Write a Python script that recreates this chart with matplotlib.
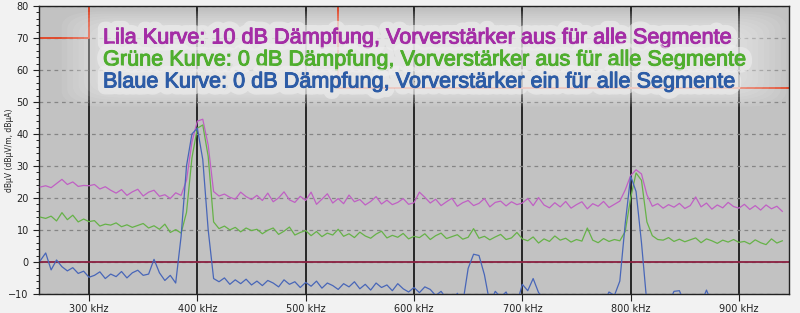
import matplotlib
matplotlib.use("Agg")
import matplotlib.pyplot as plt
import matplotlib.patheffects as pe
from matplotlib.patches import FancyBboxPatch
from matplotlib.ticker import MultipleLocator

# sweep grid in kHz (5 kHz steps)
freq_khz = list(range(255, 945, 5))

# Lila: 10 dB attenuation, preamp off
lila = [
    23.4, 23.8, 23.2, 24.5, 25.8, 24.2, 25.0, 23.6, 23.9, 23.8,
    24.2, 22.8, 23.5, 22.4, 21.5, 22.6, 20.8, 21.9, 22.7, 20.6,
    21.8, 22.4, 20.5, 21.0, 19.8, 21.6, 20.8, 25.5, 37.5, 44.0,
    44.6, 36.5, 22.0, 20.6, 21.2, 20.2, 19.6, 21.8, 20.4, 19.5,
    20.8, 19.2, 21.5, 18.8, 20.0, 21.9, 19.4, 18.6, 20.5, 19.2,
    21.8, 18.0, 19.6, 21.3, 18.4, 19.8, 18.2, 20.9, 18.8, 19.5,
    17.8, 18.9, 20.4, 18.1, 19.3, 17.9, 18.6, 19.8, 18.0, 18.5,
    21.8, 20.2, 18.4, 19.6, 17.6, 18.8, 19.9, 17.4, 18.5, 19.2,
    17.6, 18.3, 19.8, 17.2, 18.6, 19.0, 17.5, 18.8, 17.9, 18.4,
    19.8, 17.6, 20.1, 17.8, 16.9, 18.5, 17.2, 18.9, 16.8, 17.9,
    18.8, 16.6, 18.2, 17.4, 18.9, 17.0, 18.0, 19.0, 22.5, 27.0,
    28.8, 27.5, 21.0, 17.4, 18.2, 16.8, 17.9, 17.1, 18.3, 16.7,
    17.6, 20.3, 17.2, 18.4, 16.5, 17.8, 16.9, 18.6, 17.3, 16.8,
    18.0, 16.4, 17.6, 16.2, 17.8, 16.6, 17.4, 15.8,
]

# Gruen: 0 dB attenuation, preamp off
gruen = [
    14.0, 13.6, 14.3, 12.8, 15.4, 13.2, 14.6, 12.5, 13.4, 12.6,
    12.9, 11.2, 11.8, 11.5, 12.2, 11.0, 11.6, 10.8, 11.4, 12.0,
    10.6, 11.3, 10.2, 11.8, 9.2, 10.1, 9.0, 15.5, 32.5, 41.8,
    42.8, 33.0, 12.5, 10.4, 11.2, 10.0, 10.8, 9.4, 10.6, 9.8,
    10.2, 8.8, 9.9, 10.6, 8.6, 9.6, 10.9, 8.4, 9.2, 9.8,
    8.2, 9.5, 7.9, 9.0, 8.4, 10.2, 8.0, 8.8, 7.6, 9.3,
    8.1, 7.4, 8.7, 9.6, 7.5, 8.3, 7.7, 8.9, 7.2, 8.0,
    7.6, 8.8, 7.0, 8.2, 9.0, 7.3, 7.9, 8.5, 7.1, 7.7,
    10.4, 7.4, 8.0, 6.9, 7.8, 8.6, 7.0, 7.5, 9.2, 7.2,
    6.6, 7.8, 5.9, 7.2, 6.4, 8.1, 6.8, 7.4, 6.2, 7.0,
    6.5, 10.6, 6.8, 6.0, 7.3, 6.4, 7.0, 6.6, 9.5, 20.0,
    27.8, 25.5, 12.5, 8.2, 7.0, 6.8, 7.6, 6.4, 7.1, 6.3,
    6.9, 7.5, 6.0, 7.2, 6.6, 5.8, 6.8, 6.2, 7.0, 6.1,
    6.4, 5.6, 6.9, 6.0, 5.4, 7.2, 5.9, 6.6,
]

# Blau: 0 dB attenuation, preamp on (values below -10 fall off the chart)
blau = [
    0.4, 2.8, -2.5, 0.6, -1.5, -2.8, -1.8, -3.6, -2.9, -4.8,
    -4.2, -3.1, -5.2, -3.8, -4.6, -3.0, -5.0, -3.4, -2.6, -4.2,
    -3.8, 0.8, -3.4, -5.8, -4.2, -6.6, 8.0, 30.0, 40.0, 41.8,
    32.0, 10.0, -5.2, -6.2, -5.0, -7.0, -5.6, -6.8, -5.4, -7.2,
    -6.0, -7.4, -5.8, -6.6, -7.8, -5.6, -7.0, -6.2, -8.0, -6.4,
    -7.6, -6.0, -8.2, -6.6, -7.4, -8.6, -6.8, -7.8, -6.2, -8.4,
    -7.0, -8.8, -6.6, -8.0, -7.2, -9.0, -6.8, -8.4, -9.4, -8.0,
    -9.6, -7.8, -8.6, -10.5, -9.2, -11.5, -13.0, -9.8, -13.0, -2.0,
    2.4, 2.0, -4.0, -13.0, -9.2, -11.0, -9.4, -13.0, -13.0, -7.0,
    -9.0, -5.2, -9.6, -11.5, -13.0, -13.0, -13.0, -13.0, -13.0, -13.0,
    -13.0, -13.0, -13.0, -13.0, -13.0, -9.4, -10.5, -6.0, 12.0, 26.8,
    22.0, 6.0, -13.0, -13.0, -13.0, -13.0, -13.0, -9.2, -9.0, -13.0,
    -13.0, -13.0, -13.0, -8.8, -13.0, -13.0, -13.0, -13.0, -13.0, -13.0,
    -13.0, -13.0, -13.0, -13.0, -13.0, -13.0, -13.0, -13.0,
]

# limit line (segments)
limit_f = [254, 300, 300, 530, 530, 946]
limit_db = [70, 70, 90, 90, 54.4, 54.4]

x_ticks = [300, 400, 500, 600, 700, 800, 900]
x_labels = [f"{t} kHz" for t in x_ticks]

labels = [
    "Lila Kurve: 10 dB Dämpfung, Vorverstärker aus für alle Segmente",
    "Grüne Kurve: 0 dB Dämpfung, Vorverstärker aus für alle Segmente",
    "Blaue Kurve: 0 dB Dämpfung, Vorverstärker ein für alle Segmente",
]
text_colors = ["#a42ea6", "#4fae2e", "#2d5ca6"]

fig = plt.figure(figsize=(8, 3.13), dpi=100, facecolor="#f2f2f2")
ax = fig.add_axes([0.049, 0.061, 0.937, 0.920])
ax.set_facecolor("#c2c2c2")

ax.set_xlim(254, 946)
ax.set_ylim(-10, 80)

# grid
for t in x_ticks:
    ax.axvline(t, color="#1a1a1a", lw=1.3, zorder=1)
for v in range(-10, 81, 10):
    ax.axhline(v, color="#858585", lw=0.9, ls=(0, (3, 3)), zorder=1)

ax.axhline(0, color="#8a2040", lw=1.3, zorder=2)
ax.plot(limit_f, limit_db, color="#e04a2c", lw=1.4, zorder=2)

ax.plot(freq_khz, lila, color="#c060c4", lw=0.9, zorder=3)
ax.plot(freq_khz, gruen, color="#66b248", lw=0.9, zorder=3)
ax.plot(freq_khz, blau, color="#4866b8", lw=0.9, zorder=4)

ax.set_xticks(x_ticks)
ax.set_xticklabels(x_labels)
ax.yaxis.set_major_locator(MultipleLocator(10))
ax.yaxis.set_minor_locator(MultipleLocator(2))
ax.tick_params(axis="both", labelsize=7, colors="#222222", length=4, width=0.8)
ax.tick_params(axis="y", which="minor", length=2, width=0.6)
ax.tick_params(axis="x", length=5, pad=2)
for s in ax.spines.values():
    s.set_color("#222222")
    s.set_linewidth(1.0)

fig.text(0.012, 0.52, "dBµV (dBµV/m, dBµA)", rotation=90, fontsize=5.5,
         ha="center", va="center", color="#222222")

# soft white cloud behind the legend text
for k in range(8):
    pad = 0.004 + 0.007 * k
    cloud = FancyBboxPatch((104 / 800, 1 - 90 / 313), 640 / 800, 62 / 313,
                           boxstyle=f"round,pad={pad},rounding_size=0.05",
                           transform=fig.transFigure, facecolor="white",
                           edgecolor="none", alpha=0.07, zorder=9)
    fig.patches.append(cloud)

for i, (txt, col) in enumerate(zip(labels, text_colors)):
    glow = [
        pe.withStroke(linewidth=10, foreground="#eeeeee", alpha=0.6),
        pe.withStroke(linewidth=0.7, foreground=col),
    ]
    fig.text(103 / 800, 1 - (38 + 22 * i) / 313, txt, color=col,
             fontsize=15.6, family="Liberation Sans", ha="left", va="center",
             path_effects=glow, zorder=10)

fig.savefig("out.png", dpi=100, facecolor=fig.get_facecolor())
